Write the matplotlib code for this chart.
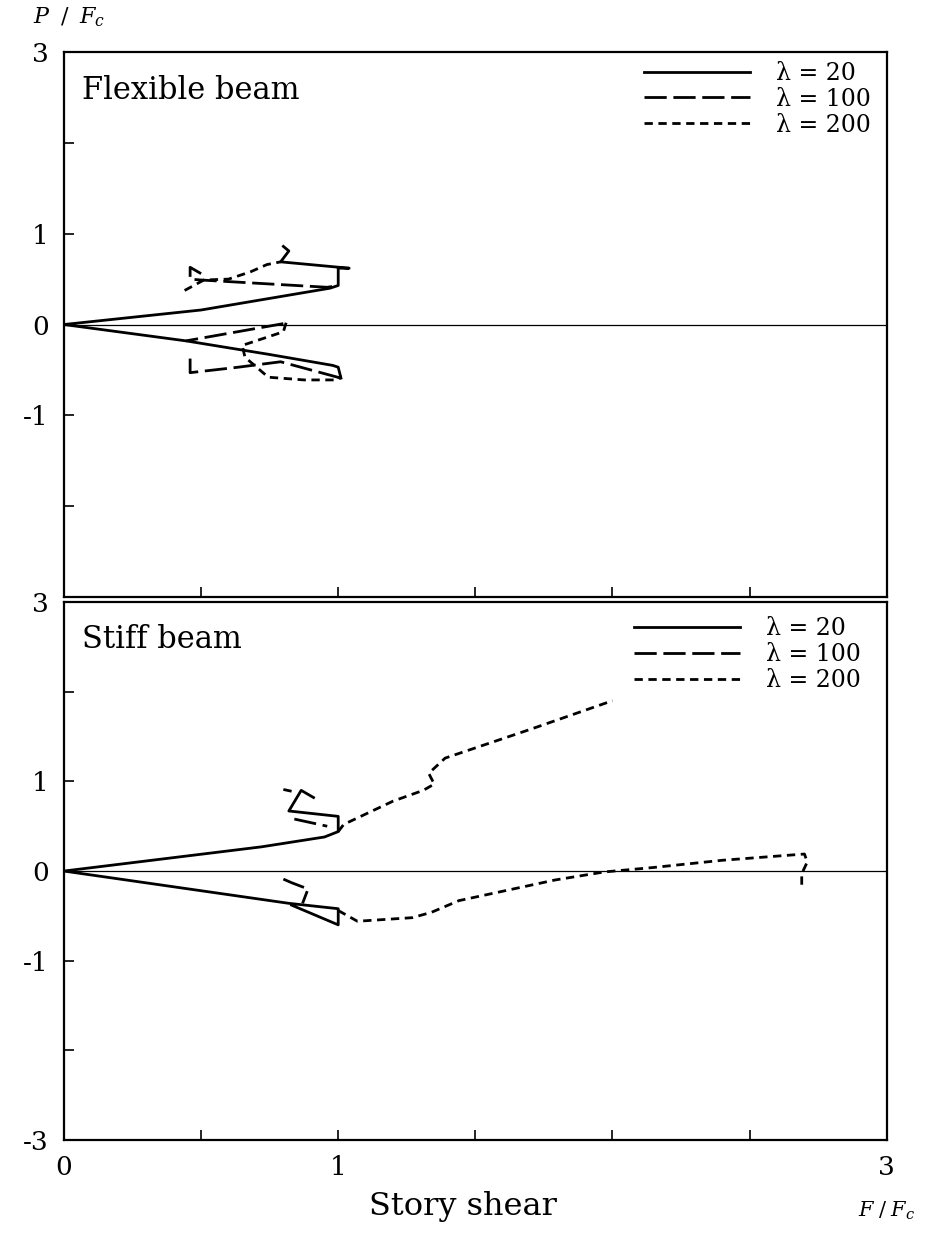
import numpy as np
import matplotlib
matplotlib.use('Agg')
import matplotlib.pyplot as plt
from matplotlib.ticker import FixedLocator, FixedFormatter

plt.rcParams['font.family'] = ['DejaVu Serif']
plt.rcParams['mathtext.fontset'] = 'dejavuserif'

nan = np.nan

# slenderness values of the three runs
lambdas = [20, 100, 200]

# flexible beam: column axial force P/Fc against story shear F/Fc (nan breaks a path)
flex_20_x = [0.80, 0.82, 0.79, 1.04, 1.00, 1.00, 0.97, 0.50, 0.00, 0.445, 0.75, 0.98, 1.00, 1.01]
flex_20_y = [0.86, 0.81, 0.69, 0.62, 0.62, 0.43, 0.40, 0.16, 0.00, -0.18, -0.33, -0.45, -0.47, -0.59]
flex_100_x = [0.50, 0.46, 0.46, 0.50, 0.96, 1.00, nan, 0.80, 0.445, nan, 0.46, 0.46, 0.635, 0.79, 1.01]
flex_100_y = [0.56, 0.63, 0.50, 0.49, 0.41, 0.43, nan, 0.01, -0.18, nan, -0.375, -0.53, -0.47, -0.41, -0.59]
flex_200_x = [0.44, 0.51, 0.60, 0.68, 0.74, 0.79, nan, 0.81, 0.80, 0.65, 0.66, 0.745, 0.876, 1.00, 1.01]
flex_200_y = [0.375, 0.49, 0.50, 0.58, 0.66, 0.69, nan, 0.02, -0.08, -0.23, -0.36, -0.58, -0.61, -0.61, -0.56]

# stiff beam
stiff_20_x = [0.91, 0.865, 0.82, 1.00, 1.00, 0.95, 0.72, 0.00, 0.82, 1.00, 1.00, 0.83]
stiff_20_y = [0.82, 0.90, 0.67, 0.61, 0.44, 0.38, 0.27, 0.00, -0.36, -0.42, -0.60, -0.38]
stiff_100_x = [0.84, 0.96, nan, 0.80, 0.83, nan, 0.80, 0.83, 0.89, 0.87]
stiff_100_y = [0.58, 0.50, nan, 0.91, 0.89, nan, -0.09, -0.13, -0.20, -0.36]
stiff_200_x = [1.00, 1.02, 1.20, 1.31, 1.35, 1.33, 1.39, 1.70, 2.00, nan,
               1.00, 1.07, 1.27, 1.34, 1.44, 1.79, 1.97, 2.15, 2.40, 2.70, 2.71, 2.69, 2.69]
stiff_200_y = [0.44, 0.52, 0.78, 0.90, 0.97, 1.09, 1.26, 1.58, 1.90, nan,
               -0.44, -0.56, -0.52, -0.46, -0.33, -0.10, -0.01, 0.04, 0.12, 0.19, 0.10, -0.03, -0.17]

x_ticks = [0, 0.5, 1, 1.5, 2, 2.5, 3]
y_ticks = [-3, -2, -1, 0, 1, 2, 3]
y_labels_top = ['', '', '-1', '0', '1', '', '3']
y_labels_bottom = ['-3', '', '-1', '0', '1', '', '3']
x_labels_bottom = ['0', '', '1', '', '', '', '3']

styles = {20: '-', 100: (0, (8, 2.4)), 200: (0, (3.0, 2.0))}

fig = plt.figure(figsize=(9.35, 12.33), dpi=100)
ax1 = fig.add_axes([0.0684, 0.5158, 0.880, 0.442])
ax2 = fig.add_axes([0.0684, 0.0754, 0.880, 0.4363])

panels = [
    (ax1, 'Flexible beam', [(flex_20_x, flex_20_y), (flex_100_x, flex_100_y), (flex_200_x, flex_200_y)],
     y_labels_top, (0.705, 0.982)),
    (ax2, 'Stiff beam', [(stiff_20_x, stiff_20_y), (stiff_100_x, stiff_100_y), (stiff_200_x, stiff_200_y)],
     y_labels_bottom, (0.693, 0.972)),
]

for ax, title, curves, ylabels, anchor in panels:
    ax.axhline(0, color='black', lw=0.9)
    for lam, (xs, ys) in zip(lambdas, curves):
        ax.plot(xs, ys, color='black', lw=2.0, linestyle=styles[lam],
                label='λ = {}'.format(lam))
    ax.set_xlim(0, 3)
    ax.set_ylim(-3, 3)
    ax.xaxis.set_major_locator(FixedLocator(x_ticks))
    ax.yaxis.set_major_locator(FixedLocator(y_ticks))
    ax.yaxis.set_major_formatter(FixedFormatter(ylabels))
    ax.tick_params(direction='in', length=7, width=1.2, labelsize=19, pad=11,
                   top=False, right=False)
    for sp in ax.spines.values():
        sp.set_linewidth(1.6)
    ax.text(0.022, 0.93, title, transform=ax.transAxes, fontsize=22, va='center')
    ax.legend(loc='upper left', bbox_to_anchor=anchor, frameon=False, fontsize=17,
              handlelength=4.5, handletextpad=1.1, labelspacing=0.12,
              borderpad=0, borderaxespad=0)

ax1.xaxis.set_major_formatter(FixedFormatter([''] * len(x_ticks)))
ax2.xaxis.set_major_formatter(FixedFormatter(x_labels_bottom))
ax2.set_xlabel('Story shear', fontsize=23, labelpad=10)
ax2.xaxis.set_label_coords(0.485, -0.095)

fig.text(33 / 935, 1 - 17 / 1233, r'$P\;\;/\;\;F_c$', fontsize=16, va='center', ha='left')
fig.text(858 / 935, 1 - 1211 / 1233, r'$F\;/\;F_c$', fontsize=15, va='center', ha='left')

fig.savefig('out.png', dpi=100)
